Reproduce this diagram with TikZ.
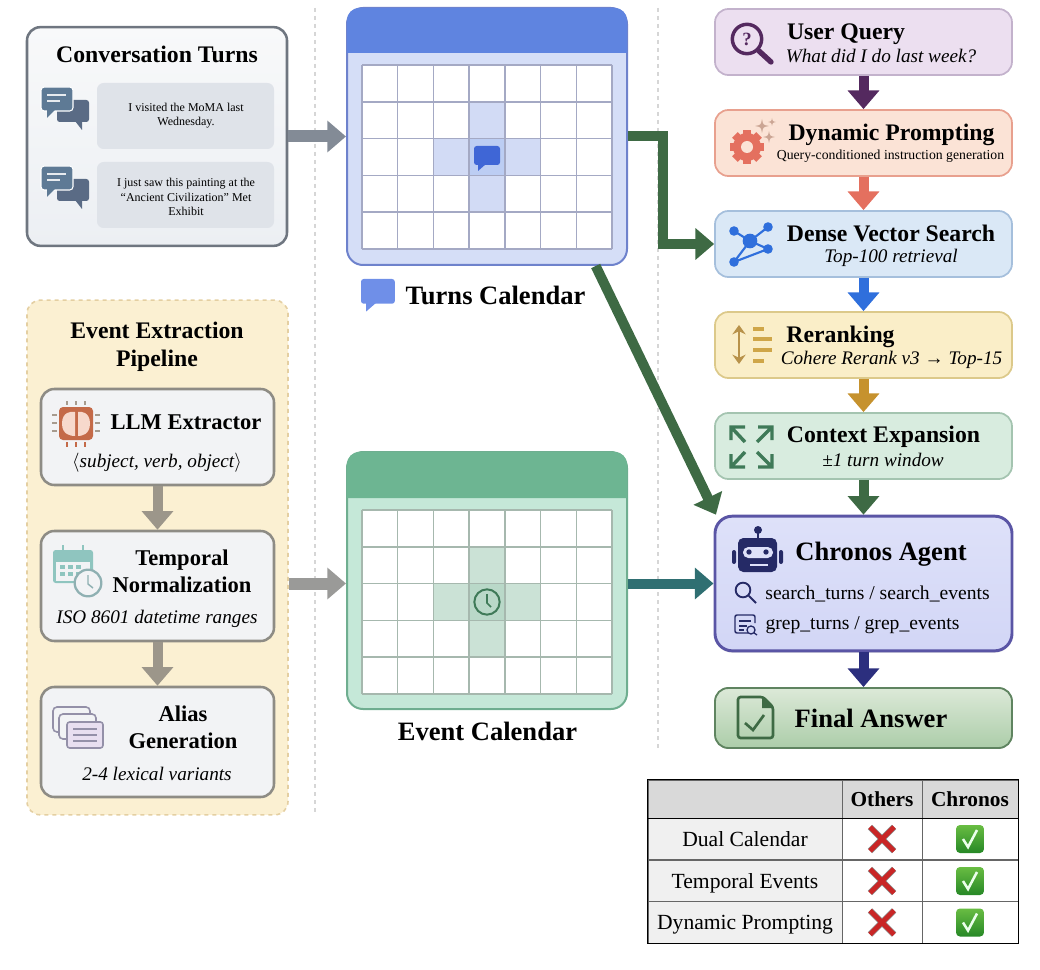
\documentclass[tikz,border=0pt]{standalone}
\usepackage{xcolor}
\usepackage{fontspec}
\setmainfont{Liberation Serif}
\usetikzlibrary{arrows.meta, shadows}
\definecolor{slateA}{HTML}{5E7A95}
\definecolor{slateB}{HTML}{5A6B85}
\definecolor{plum}{HTML}{54295F}
\definecolor{coral}{HTML}{E4705F}
\definecolor{azure}{HTML}{2F6FDC}
\definecolor{ochre}{HTML}{C6922E}
\definecolor{forest}{HTML}{3E6A44}
\definecolor{navy}{HTML}{2C2F7E}
\definecolor{robot}{HTML}{252A66}
\definecolor{tealdark}{HTML}{2F6F72}
\definecolor{expand}{HTML}{3F7A58}
\definecolor{pipeline}{HTML}{8E8C85}
\definecolor{pipefill}{HTML}{F2F3F5}
\definecolor{aliasline}{HTML}{9490A8}
\definecolor{tempoicon}{HTML}{8FC5BF}
\definecolor{tempoclock}{HTML}{8FB0B2}
\definecolor{sparkle}{HTML}{CBA594}
\tikzstyle{headtext} = [inner sep=0pt, align=center, font=\fontsize{17.8pt}{21pt}\selectfont\bfseries]
\tikzstyle{midtext} = [headtext, font=\fontsize{16.9pt}{20.4pt}\selectfont\bfseries]
\tikzstyle{bigtext} = [headtext, font=\fontsize{19.9pt}{23pt}\selectfont\bfseries]
\tikzstyle{subtext} = [inner sep=0pt, align=center, font=\fontsize{14.4pt}{17pt}\selectfont\itshape]
\tikzstyle{tooltext} = [inner sep=0pt, font=\fontsize{14.7pt}{17pt}\selectfont]
\tikzstyle{chattext} = [inner sep=0pt, align=center, font=\fontsize{9pt}{10.6pt}\selectfont]
\tikzstyle{panel} = [rectangle, rounded corners=10pt, line width=1.9pt]
\tikzstyle{pipebox} = [panel, draw=pipeline, fill=pipefill, minimum width=174.75pt]
\tikzstyle{chatbox} = [rectangle, rounded corners=5pt, fill=#1, minimum width=132.75pt, minimum height=49.5pt]
\tikzstyle{stagebox} = [rectangle, rounded corners=10pt, line width=1.3pt, minimum width=222.75pt, minimum height=49.5pt]
\tikzstyle{calbody} = [rectangle, rounded corners=12pt, line width=1.5pt, minimum width=210pt, minimum height=192.75pt]
\tikzstyle{bigarrow} = [line width=#1pt, -{Triangle[length=14pt,width=23pt]}]
\tikzstyle{cell} = [rectangle, draw=black!60, line width=0.6pt, inner sep=0pt, minimum height=31pt]
\tikzset{
  chaticon/.pic={
    \fill[slateB, rounded corners=2pt] (17,13) rectangle (49,35);
    \fill[slateB] (35,34) -- (42,43) -- (42,34) -- cycle;
    \fill[slateA, draw=white, line width=0.8pt, rounded corners=2.5pt] (1,0) rectangle (33,24);
    \fill[slateA] (7,23) -- (7,31) -- (15,23) -- cycle;
    \draw[white!85!slateA, line width=0.8pt] (7,8) -- (26,8) (7,14) -- (20,14);
  },
  bubbleicon/.pic={
    \fill[pic actions, rounded corners=2pt] (0,0) rectangle (26,19);
    \fill[pic actions] (4,18) -- (4,25) -- (12,18) -- cycle;
  },
  sparkleicon/.pic={
    \fill[pic actions] (0,-1) .. controls (0.15,-0.15) .. (1,0) .. controls (0.15,0.15) .. (0,1) .. controls (-0.15,0.15) .. (-1,0) .. controls (-0.15,-0.15) .. (0,-1) -- cycle;
  },
  crossicon/.pic={
    \draw[black!45, line width=4.6pt] (-12,-12) -- (12,12) (-12,12) -- (12,-12);
    \draw[red!75!black!85!white, line width=3.6pt] (-12,-12) -- (12,12) (-12,12) -- (12,-12);
  },
  checkicon/.pic={
    \shade[top color=green!35!gray!80!lime, bottom color=green!45!black!85!white, rounded corners=3pt] (-14,-14) rectangle (14,14);
    \draw[white!92!green, line width=1.9pt] (-7,0) -- (-2,8) -- (7,-9);
  }
}
\begin{document}
\begin{tikzpicture}[x=0.75pt, y=-0.75pt]
        \useasboundingbox (0,0) rectangle (1040,970);
        \draw[black!16, dashed, line width=0.8pt] (315,8) -- (315,815);
        \draw[black!16, dashed, line width=0.8pt] (658,8) -- (658,748);

        \definecolor{convline}{HTML}{6F7680}
        \definecolor{convtop}{HTML}{F8F9FA}
        \definecolor{convbot}{HTML}{ECEFF3}
        \definecolor{chatfill}{HTML}{DFE3E9}
        \node (conv) [panel, draw=convline, top color=convtop, bottom color=convbot, minimum width=195pt, minimum height=164pt] at (157,136.5) {};
        \node (convtitle) [headtext] at (157,54) {Conversation Turns};
        \node (chatone) [chatbox=chatfill] at (185.5,116) {};
        \node (chattwo) [chatbox=chatfill] at (185.5,195) {};
        \node (chatonetext) [chattext] at (186,116) {I visited the MoMA last\\Wednesday.};
        \node (chattwotext) [chattext] at (186,197) {I just saw this painting at the\\“Ancient Civilization” Met\\Exhibit};
        \pic at (40,87) {chaticon};
        \pic at (40,166) {chaticon};

        \definecolor{pipedash}{HTML}{E4CFA2}
        \definecolor{pipeback}{HTML}{FBF0D2}
        \node (pipebg) [panel, dashed, draw=pipedash, fill=pipeback, line width=1.2pt, minimum width=195.75pt, minimum height=386pt] at (157.5,557.5) {};
        \node (pipetitle) [headtext] at (157,347) {Event Extraction\\Pipeline};
        \node (llm) [pipebox, minimum height=72pt] at (157.5,437) {};
        \node (llmtitle) [midtext] at (186,422) {LLM Extractor};
        \node (llmsub) [subtext] at (157,463) {$\langle$subject, verb, object$\rangle$};
        \node (tempo) [pipebox, minimum height=82.5pt] at (157.5,586) {};
        \node (tempotitle) [midtext] at (182,571) {Temporal\\Normalization};
        \node (temposub) [subtext] at (157,619) {ISO 8601 datetime ranges};
        \node (alias) [pipebox, minimum height=82.5pt] at (157.5,742) {};
        \node (aliastitle) [midtext] at (183,727) {Alias\\Generation};
        \node (aliassub) [subtext] at (157,774) {2-4 lexical variants};

        \definecolor{chipfill}{HTML}{C46A48}
        \definecolor{chipbrain}{HTML}{F7D9CC}
        \definecolor{chippin}{HTML}{A79B8E}
        \fill[chipfill, rounded corners=3pt] (59,407) rectangle (93,440);
        \fill[chipbrain] (62,423.5) .. controls (62,412) and (71,411) .. (75,412) -- (75,436) .. controls (71,436) and (62,435) .. (62,423.5);
        \fill[chipbrain] (90,423.5) .. controls (90,412) and (81,411) .. (78,412) -- (78,436) .. controls (81,436) and (90,435) .. (90,423.5);
        \foreach \p in {415,423,431} {
          \draw[chippin, line width=1pt] (52,\p) -- (57,\p) (95,\p) -- (100,\p);
        }
        \foreach \p in {67,76,85} {
          \draw[chippin, line width=1pt] (\p,401) -- (\p,405);
          \draw[chipfill, line width=1pt] (\p,442) -- (\p,447);
        }

        \fill[tempoicon, rounded corners=2pt] (53,550) rectangle (93,583);
        \fill[pipefill] (56,562) rectangle (90,581);
        \foreach \p in {63,83} {
          \draw[tempoicon, line width=1.5pt] (\p,545) -- (\p,553);
        }
        \foreach \p in {60,68,76} {
          \fill[tempoicon] (\p,565) rectangle ++(5,4);
          \fill[tempoicon] (\p,572) rectangle ++(5,4);
        }
        \draw[tempoclock, fill=pipefill, line width=1.7pt] (88,583) circle (10pt);
        \draw[tempoclock, line width=1.1pt] (88,575) -- (88,584) -- (93,588);

        \foreach \p/\q in {53/707, 59/714} {
          \draw[aliasline, fill=pipefill, line width=1.2pt, rounded corners=3pt] (\p,\q) rectangle ++(37,25);
        }
        \definecolor{aliasfill}{HTML}{E8DFF0}
        \draw[aliasline, fill=aliasfill, line width=1.2pt, rounded corners=2pt] (67,722) rectangle (103,748);
        \foreach \p in {729,735,741} {
          \draw[aliasline, line width=1.2pt] (73,\p) -- (97,\p);
        }

        \definecolor{turnline}{HTML}{6E82CC}
        \definecolor{turnbody}{HTML}{D5DEF7}
        \definecolor{turnhead}{HTML}{5F84E0}
        \definecolor{turnnear}{HTML}{D2DBF5}
        \definecolor{turnmid}{HTML}{BCCDF3}
        \definecolor{turngrid}{HTML}{A4A9C4}
        \definecolor{eventline}{HTML}{6FAE90}
        \definecolor{eventbody}{HTML}{C5E8D8}
        \definecolor{eventhead}{HTML}{6DB592}
        \definecolor{eventnear}{HTML}{CBE2D6}
        \definecolor{eventmid}{HTML}{B9D8C8}
        \definecolor{eventgrid}{HTML}{A6B8AE}
        \node (turncal) [calbody, draw=turnline, fill=turnbody] at (487,136.5) {};
        \fill[turnhead] (347,53) [rounded corners=9pt] -- (347,8) -- (627,8) [sharp corners] -- (627,53) -- cycle;
        \node (eventcal) [calbody, draw=eventline, fill=eventbody] at (487,580.5) {};
        \fill[eventhead] (347,498) [rounded corners=9pt] -- (347,452) -- (627,452) [sharp corners] -- (627,498) -- cycle;

        \foreach \top/\hl/\hm/\ln in {65/turnnear/turnmid/turngrid, 510/eventnear/eventmid/eventgrid} {
          \fill[white] (362,\top) rectangle ++(250,184);
          \fill[\hl] (469.4,\top+37) rectangle ++(35.7,36.8);
          \fill[\hl] (433.7,\top+73.8) rectangle ++(107.1,36.8);
          \fill[\hl] (469.4,\top+110.6) rectangle ++(35.7,36.8);
          \fill[\hm] (469.4,\top+73.8) rectangle ++(35.7,36.8);
          \foreach \i in {0,...,7} {
            \draw[\ln, line width=1.1pt] (362+\i*35.71,\top) -- ++(0,184);
          }
          \foreach \j in {0,...,5} {
            \draw[\ln, line width=1.1pt] (362,\top+\j*36.8) -- ++(250,0);
          }
        }
        \definecolor{bubbledark}{HTML}{3F66D6}
        \definecolor{bubblelight}{HTML}{6F8FE8}
        \pic[fill=bubbledark] at (474,146) {bubbleicon};
        \draw[expand, line width=1.5pt] (487,602) circle (9.5pt);
        \draw[expand, line width=1.3pt] (487,594) -- (487,603) -- (491,607);
        \pic[fill=bubblelight, scale=1.3] at (361,279) {bubbleicon};
        \node (turnlabel) [bigtext] at (495.5,295) {Turns Calendar};
        \node (eventlabel) [bigtext] at (487.5,731) {Event Calendar};

        \definecolor{queryfill}{HTML}{ECDFF0}
        \definecolor{queryline}{HTML}{C3B2CC}
        \node (query) [stagebox, draw=queryline, fill=queryfill] at (863.5,42) {};
        \node (querytitle) [headtext] at (846,34) {User Query};
        \node (querysub) [subtext] at (881,56) {What did I do last week?};
        \draw[plum, line width=2.6pt] (747,39) circle (11pt);
        \draw[plum, line width=4pt, line cap=round] (759,51) -- (771,62);
        \node (querymark) [inner sep=0pt, text=plum, font=\fontsize{14pt}{14pt}\selectfont\bfseries] at (747,39) {?};

        \definecolor{promptfill}{HTML}{FBE3D6}
        \definecolor{promptline}{HTML}{E8A08E}
        \node (prompt) [stagebox, draw=promptline, fill=promptfill] at (863.5,143) {};
        \node (prompttitle) [headtext] at (891.5,135) {Dynamic Prompting};
        \node (promptsub) [inner sep=0pt, font=\fontsize{10.3pt}{12pt}\selectfont] at (890.5,156) {Query-conditioned instruction generation};
        \foreach \a in {0,45,...,315} {
          \fill[coral, rotate around={\a:(747,147)}] (743,130) rectangle (751,137);
        }
        \fill[coral] (747,147) circle (10.5pt);
        \fill[promptfill] (747,147) circle (4.5pt);
        \pic[fill=sparkle, scale=7] at (762,126) {sparkleicon};
        \pic[fill=sparkle, scale=4] at (772,122) {sparkleicon};
        \pic[fill=sparkle, scale=6] at (769,137) {sparkleicon};

        \definecolor{densefill}{HTML}{DAE8F6}
        \definecolor{denseline}{HTML}{A5BFDC}
        \node (dense) [stagebox, draw=denseline, fill=densefill] at (863.5,244) {};
        \node (densetitle) [headtext] at (891,233.5) {Dense Vector Search};
        \node (densesub) [subtext] at (891,258) {Top-100 retrieval};
        \draw[azure, line width=1.6pt] (734,231) -- (750,241) -- (768,227) (750,241) -- (768,249) -- (734,262) -- cycle;
        \fill[azure] (750,241) circle (5.5pt);
        \foreach \p/\q in {734/231, 768/227, 768/249, 734/262} {
          \fill[azure] (\p,\q) circle (3.6pt);
        }

        \definecolor{rerankfill}{HTML}{FAEEC8}
        \definecolor{rerankline}{HTML}{DCC98A}
        \definecolor{rerankicon}{HTML}{B8924A}
        \definecolor{ranklines}{HTML}{CFA648}
        \node (rerank) [stagebox, draw=rerankline, fill=rerankfill] at (863.5,345) {};
        \node (reranktitle) [headtext] at (840.5,337) {Reranking};
        \node (reranksub) [subtext] at (891.5,360) {Cohere Rerank v3 → Top-15};
        \draw[rerankicon, line width=2pt, {Stealth[length=7pt,width=10pt]}-{Stealth[length=7pt,width=10pt]}] (739,325) -- (739,364);
        \foreach \p/\q in {329/764, 339/772, 350/772, 361/764} {
          \draw[ranklines, line width=3pt] (753,\p) -- (\q,\p);
        }

        \definecolor{expandfill}{HTML}{D8ECDF}
        \definecolor{expandline}{HTML}{A4C4B0}
        \node (expansion) [stagebox, draw=expandline, fill=expandfill] at (863.5,446) {};
        \node (expansiontitle) [headtext] at (883.5,437) {Context Expansion};
        \node (expansionsub) [subtext] at (883,460) {±1 turn window};
        \draw[expand, line width=2.6pt] (745,442) -- (731,427) (731,440) -- (731,427) -- (745,427);
        \draw[expand, line width=2.6pt] (757,442) -- (772,427) (772,440) -- (772,427) -- (758,427);
        \draw[expand, line width=2.6pt] (745,452) -- (731,467) (731,454) -- (731,467) -- (745,467);
        \draw[expand, line width=2.6pt] (757,452) -- (772,467) (772,454) -- (772,467) -- (758,467);

        \definecolor{chronosline}{HTML}{5A55A5}
        \definecolor{chronostop}{HTML}{DEE1F9}
        \definecolor{chronosbot}{HTML}{D2D6F6}
        \node (chronos) [rectangle, rounded corners=13pt, draw=chronosline, line width=2.2pt, top color=chronostop, bottom color=chronosbot, drop shadow={shadow xshift=0pt, shadow yshift=-1.5pt, opacity=0.2}, minimum width=222.75pt, minimum height=101pt] at (863.5,583.5) {};
        \node (chronostitle) [bigtext] at (881,554) {Chronos Agent};
        \node (searchtool) [tooltext] at (877.5,594) {search\_turns / search\_events};
        \node (greptool) [tooltext] at (862.5,625) {grep\_turns / grep\_events};
        \fill[robot, rounded corners=4pt] (738,538) rectangle (777,572);
        \draw[robot, line width=1.5pt] (758,530) -- (758,538);
        \fill[robot] (758,530) circle (3pt);
        \fill[robot, rounded corners=1.5pt] (732,550) rectangle (736,564);
        \fill[robot, rounded corners=1.5pt] (779,550) rectangle (783,564);
        \fill[chronostop, rounded corners=4pt] (743,547) rectangle (773,558);
        \fill[robot] (749,552) circle (2pt);
        \fill[robot] (766,552) circle (2pt);
        \draw[chronostop, line width=1pt] (750,565) -- (768,565);
        \draw[robot, line width=1.4pt] (743,590) circle (5.5pt) (749,596) -- (756,603);
        \draw[robot, line width=1.1pt, rounded corners=1.5pt] (748,633) -- (735,633) -- (735,615) -- (755,615) -- (755,623);
        \draw[robot, line width=1.1pt] (739,621) -- (751,621) (739,626) -- (747,626) (739,630) -- (744,630);
        \draw[robot, line width=1pt] (751,630) circle (3pt) (753.5,632.5) -- (757,635);

        \definecolor{answerline}{HTML}{5F8460}
        \definecolor{answertop}{HTML}{DCE9D8}
        \definecolor{answerbot}{HTML}{ACCDA9}
        \node (answer) [rectangle, rounded corners=10pt, draw=answerline, line width=1.4pt, top color=answertop, bottom color=answerbot, minimum width=222.75pt, minimum height=45pt] at (863.5,718) {};
        \node (answertitle) [bigtext] at (871,718) {Final Answer};
        \draw[forest, line width=2pt, rounded corners=2pt] (738,697) -- (763,697) -- (773,707) -- (773,738) -- (738,738) -- cycle;
        \fill[forest] (762,697) -- (773,708) -- (762,708) -- cycle;
        \draw[forest, line width=2pt] (745,723) -- (753,730) -- (764,715);

        \definecolor{greyA}{HTML}{838B96}
        \definecolor{greyB}{HTML}{9A9A98}
        \definecolor{greyC}{HTML}{9C968A}
        \draw [bigarrow=9, greyA] (conv) -- (turncal);
        \draw [bigarrow=9, greyB] (pipebg.east |- chronos.west) -- (eventcal.west |- chronos.west);
        \draw [bigarrow=7.5, greyC] (llm) -- (tempo);
        \draw [bigarrow=7.5, greyC] (tempo) -- (alias);
        \coordinate (bend) at (663,244);
        \draw [bigarrow=7.5, forest] (turncal.east) -| (bend) -- (dense.west);
        \draw [bigarrow=7.5, forest] (turncal.-50) -- (chronos.155.8);
        \draw [bigarrow=7.5, tealdark] (eventcal.east |- chronos.west) -- (chronos.west);
        \draw [bigarrow=7.5, plum] (query) -- (prompt);
        \draw [bigarrow=7.5, coral] (prompt) -- (dense);
        \draw [bigarrow=7.5, azure] (dense) -- (rerank);
        \draw [bigarrow=7.5, ochre] (rerank) -- (expansion);
        \draw [bigarrow=7.5, forest] (expansion) -- (chronos);
        \draw [bigarrow=7.5, navy] (chronos) -- (answer);

        \node (headlabel) [cell, fill=black!15, minimum width=145.5pt, minimum height=28.5pt] at (745,799) {};
        \node (headothers) [cell, fill=black!15, minimum width=60pt, minimum height=28.5pt, font=\fontsize{16pt}{19pt}\selectfont\bfseries] at (882,799) {Others};
        \node (headchronos) [cell, fill=black!15, minimum width=72pt, minimum height=28.5pt, font=\fontsize{16pt}{19pt}\selectfont\bfseries] at (970,799) {Chronos};
        \foreach \y/\t/\n in {839/Dual Calendar/a, 881/Temporal Events/b, 922.5/Dynamic Prompting/c} {
          \node (label\n) [cell, fill=black!6, minimum width=145.5pt, text height=13pt, text depth=1.8pt, font=\fontsize{16.2pt}{19pt}\selectfont] at (745,\y) {\t};
          \node (others\n) [cell, fill=white, minimum width=60pt] at (882,\y) {};
          \node (chronos\n) [cell, fill=white, minimum width=72pt] at (970,\y) {};
          \pic at (882,\y) {crossicon};
          \pic at (970,\y) {checkicon};
        }
        \draw[black, line width=1.2pt] (headlabel.north west) rectangle (chronosc.south east);
        \draw[black, line width=1.2pt] (headlabel.south west) -- (headchronos.south east);
    \end{tikzpicture}
\end{document}
